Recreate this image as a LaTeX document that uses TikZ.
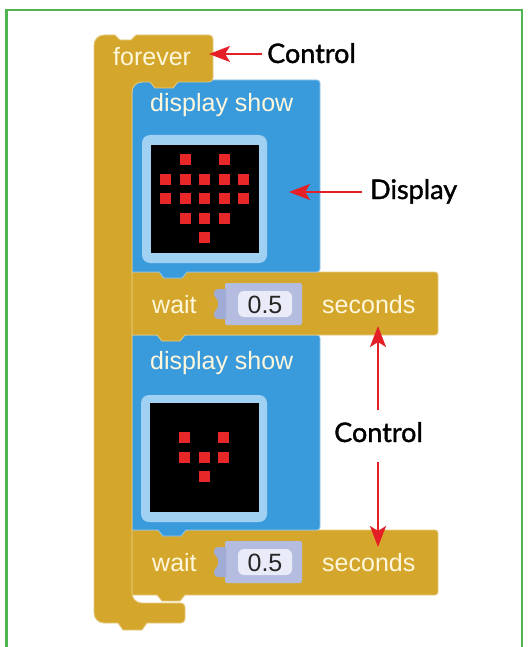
\documentclass[tikz,border=0pt]{standalone}
\usepackage{fontspec}
\setmainfont{Liberation Sans}
\newfontfamily\labelfont[FakeBold=1.3]{Lato}
\usetikzlibrary{arrows.meta}
\definecolor{gold}{RGB}{212,167,44}
\definecolor{blk}{RGB}{58,155,220}
\definecolor{framec}{RGB}{160,208,242}
\definecolor{lav}{RGB}{180,188,224}
\definecolor{lavd}{RGB}{160,172,214}
\definecolor{innerc}{RGB}{233,236,248}
\definecolor{cream}{RGB}{255,247,220}
\definecolor{ledc}{RGB}{232,40,40}
\definecolor{arrred}{RGB}{228,32,38}
\definecolor{greenb}{RGB}{80,180,80}
\begin{document}
\begin{tikzpicture}[x=1pt,y=-1pt,
  blocktxt/.style={text=cream,font=\fontsize{25}{25}\selectfont,anchor=base west,inner sep=0pt},
  numtxt/.style={text=black!85,font=\fontsize{25}{25}\selectfont,anchor=base,inner sep=0pt},
  lbl/.style={text=black,font=\labelfont\fontsize{27}{27}\selectfont,anchor=base west,inner sep=0pt},
  arr/.style={draw=arrred,line width=2.2pt,-{Stealth[length=21pt,width=16pt,inset=5pt]}},
  goldblk/.style={fill=gold,draw=gold!60!white,line width=0.8pt},
  blueblk/.style={fill=blk,draw=blk!55!white,line width=0.8pt},
  led/.style={fill=ledc}]
\useasboundingbox (0,0) rectangle (528,647);
\fill[white] (0,0) rectangle (528,647);
% green border
\draw[greenb,line width=2.2pt] (6.5,647) -- (6.5,10) -- (522,10) -- (522,647);

% wait block 2
\path[goldblk] (132,530) -- (435,530) arc[start angle=270,end angle=360,radius=3] -- (438,592)
  arc[start angle=0,end angle=90,radius=3] -- (185,595) -- (180,601) -- (162,601) -- (157,595) -- (132,595) -- cycle;
% display block 2
\path[blueblk] (132,335) -- (317,335) arc[start angle=270,end angle=360,radius=3] -- (320,527)
  arc[start angle=0,end angle=90,radius=3] -- (186,530) -- (181,536) -- (163,536) -- (158,530) -- (132,530) -- cycle;
% wait block 1
\path[goldblk] (132,272) -- (435,272) arc[start angle=270,end angle=360,radius=3] -- (438,332)
  arc[start angle=0,end angle=90,radius=3] -- (185,335) -- (180,341) -- (162,341) -- (157,335) -- (132,335) -- cycle;
% display block 1
\path[blueblk] (132,80) -- (317,80) arc[start angle=270,end angle=360,radius=3] -- (320,269)
  arc[start angle=0,end angle=90,radius=3] -- (187,272) -- (182,278) -- (164,278) -- (159,272) -- (132,272) -- cycle;
% forever block
\path[goldblk] (94,45) arc[start angle=180,end angle=270,radius=10] -- (115,35) -- (120,40) -- (131,40) -- (136,35)
  -- (209,35) arc[start angle=270,end angle=360,radius=4] -- (213,78) arc[start angle=0,end angle=90,radius=4]
  -- (178,82) -- (173,88) -- (155,88) -- (150,82)
  -- (142,82) arc[start angle=270,end angle=180,radius=10]
  -- (132,593) arc[start angle=180,end angle=90,radius=10]
  -- (181,603) arc[start angle=270,end angle=360,radius=4] -- (185,619) arc[start angle=0,end angle=90,radius=4]
  -- (147,623) -- (142,630) -- (123,630) -- (118,623)
  -- (104,623) arc[start angle=90,end angle=180,radius=10] -- cycle;

% LED matrix 1
\fill[framec,rounded corners=8pt] (142,135) rectangle (267,263);
\fill[black] (151,145) rectangle (259,253);
\foreach \c/\r in {1/0,3/0,0/1,1/1,2/1,3/1,4/1,0/2,1/2,2/2,3/2,4/2,1/3,2/3,3/3,2/4}{
  \fill[led] ({151+14.5+19.6*\c-5.5},{145+14.5+19.6*\r-5.5}) rectangle ++(11,11);
}
% LED matrix 2
\fill[framec,rounded corners=8pt] (141,395) rectangle (267,522);
\fill[black] (150,403) rectangle (259,512);
\foreach \c/\r in {1/1,3/1,1/2,2/2,3/2,2/3}{
  \fill[led] ({150+15+19.6*\c-5.5},{403+15+19.6*\r-5.5}) rectangle ++(11,11);
}

% inputs
\fill[lav,rounded corners=2pt] (225,283) rectangle (302,325);
\fill[lavd] (226,289) -- (218,289) .. controls (213,289) and (213,296) .. (216,298)
  .. controls (219,300) and (219,308) .. (216,310) .. controls (213,312) and (213,319) .. (218,319) -- (226,319) -- cycle;
\fill[innerc,rounded corners=6pt] (238,291) rectangle (292,317);
\fill[lav,rounded corners=2pt] (225,541) rectangle (302,583);
\fill[lavd] (226,547) -- (218,547) .. controls (213,547) and (213,554) .. (216,556)
  .. controls (219,558) and (219,566) .. (216,568) .. controls (213,570) and (213,577) .. (218,577) -- (226,577) -- cycle;
\fill[innerc,rounded corners=6pt] (238,549) rectangle (292,575);

% block texts
\node[blocktxt] (fv) at (113,66) {forever};
\node[blocktxt] (ds1) at (150,112) {display show};
\node[blocktxt] (w1) at (152,313) {wait};
\node[numtxt] (n1) at (265,313) {0.5};
\node[blocktxt] (s1) at (322,313) {seconds};
\node[blocktxt] (ds2) at (150,369) {display show};
\node[blocktxt] (w2) at (152,571) {wait};
\node[numtxt] (n2) at (265,571) {0.5};
\node[blocktxt] (s2) at (322,571) {seconds};

% labels and arrows
\node[lbl] (ctlA) at (267,63) {Control};
\node[lbl] (disp) at (370,199) {Display};
\node[lbl] (ctlB) at (334,442) {Control};
\coordinate (ctlAs) at (262,54);
\coordinate (ctlAt) at (209,54);
\coordinate (disps) at (362,192);
\coordinate (dispt) at (289,192);
\coordinate (upS) at (378,410);
\coordinate (upT) at (378,326);
\coordinate (dnS) at (378,462);
\coordinate (dnT) at (378,547);
\draw[arr] (ctlAs) -- (ctlAt);
\draw[arr] (disps) -- (dispt);
\draw[arr] (upS) -- (upT);
\draw[arr] (dnS) -- (dnT);
\end{tikzpicture}
\end{document}
